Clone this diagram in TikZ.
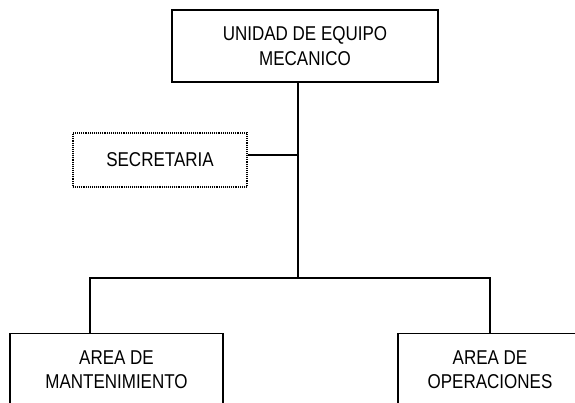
\documentclass[tikz,border=0pt]{standalone}
\usepackage{fontspec}
\setmainfont{Liberation Sans}[FakeStretch=0.85]
\usetikzlibrary{positioning}

\begin{document}
\begin{tikzpicture}[x=1pt, y=-1pt,
    caja/.style={rectangle, draw, line width=1.3pt, align=center, inner sep=0pt,
      font=\fontsize{20}{24.5}\selectfont},
    puntos/.style={caja, dash pattern=on 1pt off 0.9pt, line width=1.1pt},
    linea/.style={line width=1.3pt}
]
\useasboundingbox (0,0) rectangle (575,402);
\clip (0,0) rectangle (575,402);
\node[caja, minimum width=266pt, minimum height=72pt] (unidad) at (305,46) {UNIDAD DE EQUIPO\\MECANICO};
\node[puntos, minimum width=174pt, minimum height=54pt] (secre) at (160,160) {SECRETARIA};
\node[caja, anchor=north, minimum width=213pt, minimum height=72pt] (mant) at (116.5,333) {AREA DE\\MANTENIMIENTO};
\node[caja, anchor=north, minimum width=184pt, minimum height=72pt] (oper) at (490,333) {AREA DE\\OPERACIONES};
\coordinate (ramal) at (298,155);
\coordinate (tronco) at (298,278);
\coordinate (izq) at (90,278);
\coordinate (der) at (490,278);
\draw[linea] (unidad.south -| tronco) -- (tronco);
\draw[linea] (secre.east |- ramal) -- (ramal);
\draw[linea] (mant.north -| izq) -- (izq) -- (der) -- (oper.north);
\end{tikzpicture}
\end{document}
